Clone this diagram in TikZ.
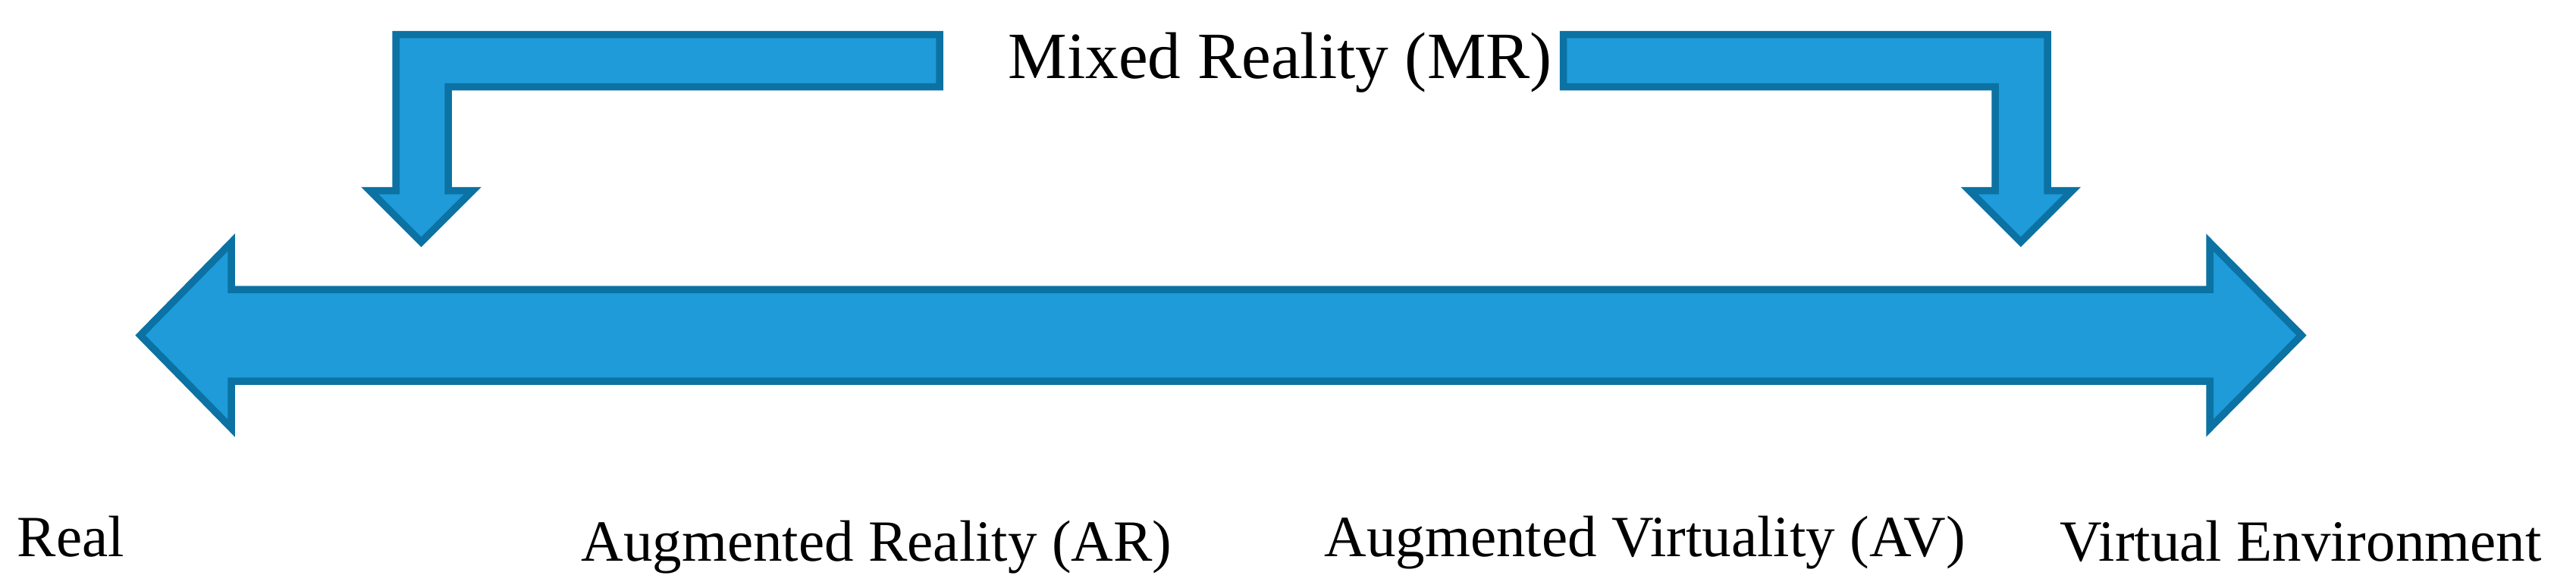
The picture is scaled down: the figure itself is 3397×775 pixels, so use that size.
\documentclass[tikz,border=0pt]{standalone}
\usepackage{fontspec}
\setmainfont{Liberation Serif}
\definecolor{arrowfill}{RGB}{30,155,216}
\definecolor{arrowline}{RGB}{11,114,163}
\tikzset{
  bigarrow/.style={fill=arrowfill, draw=arrowline, line width=2.7pt, line join=miter},
  labeltext/.style={inner sep=0pt, anchor=base west, font=\fontsize{21.9pt}{26pt}\selectfont},
  titletext/.style={inner sep=0pt, anchor=base west, font=\fontsize{24.8pt}{30pt}\selectfont}
}
\begin{document}
\begin{tikzpicture}[x=0.01cm, y=-0.01cm]
\useasboundingbox (0,0) rectangle (3397,775);
% left bent arrow
\draw[bigarrow] (1239,45.5) -- (522,45.5) -- (522,251.5) -- (487.7,251.5) -- (555.5,319.3)
  -- (623.3,251.5) -- (591,251.5) -- (591,114.5) -- (1239,114.5) -- cycle;
% right bent arrow
\draw[bigarrow] (2061.7,45.5) -- (2700,45.5) -- (2700,251.5) -- (2732.6,251.5) -- (2664.8,319.3)
  -- (2597,251.5) -- (2631,251.5) -- (2631,114.5) -- (2061.7,114.5) -- cycle;
% double arrow
\draw[bigarrow] (185,442.5) -- (305,320) -- (305,382) -- (2914,382) -- (2914,320) -- (3035,442.5)
  -- (2914,565) -- (2914,503) -- (305,503) -- (305,565) -- cycle;
% texts
\node[titletext] (mr) at (1329,103) {Mixed Reality (MR)};
\node[labeltext] (real) at (22,734) {Real};
\node[labeltext] (ar) at (766,740.7) {Augmented Reality (AR)};
\node[labeltext] (av) at (1746,734) {Augmented Virtuality (AV)};
\node[labeltext] (ve) at (2716,740.7) {Virtual Environment};
\end{tikzpicture}
\end{document}
